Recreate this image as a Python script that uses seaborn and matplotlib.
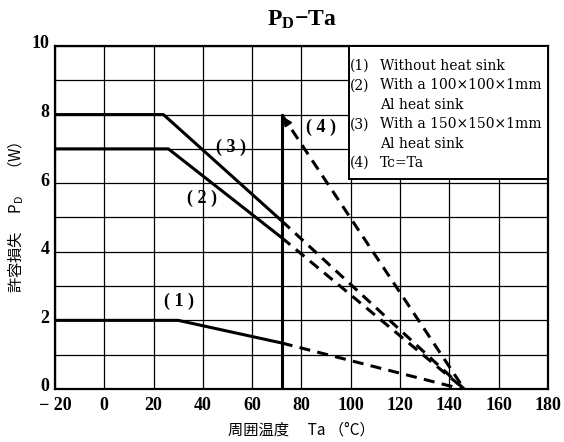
import matplotlib
matplotlib.use("Agg")
import matplotlib.pyplot as plt
import matplotlib.transforms as mtrans
import seaborn as sns
import pandas as pd
from matplotlib.patches import Rectangle

# ---- data ----
c1_solid_x = [-20, 30, 72]
c1_solid_y = [2.0, 2.0, 1.34]
c1_dash_x = [72, 145]
c1_dash_y = [1.34, 0.0]

c2_solid_x = [-20, 26, 72]
c2_solid_y = [7.0, 7.0, 4.41]
c2_dash_x = [72, 146]
c2_dash_y = [4.41, 0.0]

c3_solid_x = [-20, 24, 72]
c3_solid_y = [8.0, 8.0, 4.9]
c3_dash_x = [72, 146]
c3_dash_y = [4.9, 0.0]

c4_solid_x = [72, 72]
c4_solid_y = [0.0, 8.0]
c4_dash_x = [72, 146]
c4_dash_y = [8.0, 0.0]

x_ticks = [-20, 0, 20, 40, 60, 80, 100, 120, 140, 160, 180]
y_ticks = [0, 2, 4, 6, 8, 10]
y_minor = [1, 3, 5, 7, 9]

curve_labels = ["(1)", "(2)", "(3)", "(4)"]
label_x = [30.5, 39.5, 51.5, 88]
label_y = [2.55, 5.55, 7.05, 7.62]

legend_lines = [("(1)", "Without heat sink"),
                ("(2)", "With a 100×100×1mm"),
                ("", "Al heat sink"),
                ("(3)", "With a 150×150×1mm"),
                ("", "Al heat sink"),
                ("(4)", "Tc=Ta")]

sns.set_style("white")
plt.rcParams["font.family"] = ["Liberation Serif", "DejaVu Serif"]
plt.rcParams["text.color"] = "black"
plt.rcParams["axes.labelcolor"] = "black"
plt.rcParams["mathtext.fontset"] = "custom"
plt.rcParams["mathtext.rm"] = "Liberation Serif"
plt.rcParams["mathtext.bf"] = "Liberation Serif:bold"

fig = plt.figure(figsize=(5.64, 4.42), dpi=100)
ax = fig.add_axes([0.0975, 0.12, 0.874, 0.776])

lw = 2.2
solid_sets = [(c1_solid_x, c1_solid_y), (c2_solid_x, c2_solid_y),
              (c3_solid_x, c3_solid_y), (c4_solid_x, c4_solid_y)]
dash_sets = [(c1_dash_x, c1_dash_y), (c2_dash_x, c2_dash_y),
             (c3_dash_x, c3_dash_y), (c4_dash_x, c4_dash_y)]

for xs, ys in solid_sets:
    df = pd.DataFrame({"x": xs, "y": ys})
    sns.lineplot(data=df, x="x", y="y", ax=ax, color="black", lw=lw,
                 sort=False, estimator=None, zorder=3)
for xs, ys in dash_sets:
    df = pd.DataFrame({"x": xs, "y": ys})
    sns.lineplot(data=df, x="x", y="y", ax=ax, color="black", lw=lw,
                 sort=False, estimator=None, zorder=3, dashes=False,
                 linestyle=(0, (3.6, 2.4)))

# arrow head at the top of the (4) dashed line
ax.annotate("", xy=(c4_dash_x[0], c4_dash_y[0]),
            xytext=(c4_dash_x[0] + 3, c4_dash_y[0] - 0.33),
            arrowprops=dict(arrowstyle="-|>", color="black", lw=1.5,
                            mutation_scale=12), zorder=4)

for t, lx, ly in zip(curve_labels, label_x, label_y):
    ax.text(lx, ly, t.replace("(", "( ").replace(")", " )"), ha="center",
            va="center", fontsize=13, fontweight="bold", color="black",
            zorder=5)

ax.set_xlim(-20, 180)
ax.set_ylim(0, 10)
ax.set_xticks(x_ticks)
ax.set_xticklabels([str(v).replace("-", "− ") for v in x_ticks],
                   fontsize=13, fontweight="bold")
ax.set_yticks(y_ticks)
ax.set_yticklabels([str(v) for v in y_ticks], fontsize=13, fontweight="bold")
ax.set_yticks(y_minor, minor=True)
ax.grid(True, which="both", axis="y", color="black", lw=0.9, zorder=1)
ax.grid(True, which="major", axis="x", color="black", lw=0.9, zorder=1)
ax.set_axisbelow(True)
ax.tick_params(axis="both", which="both", length=2, width=1, color="black",
               pad=2, labelcolor="black")
ax.tick_params(axis="x", pad=4)

# shift y tick labels slightly upward, as in the reference
shift = mtrans.ScaledTranslation(0, 4 / 100, fig.dpi_scale_trans)
for lab in ax.get_yticklabels():
    lab.set_transform(lab.get_transform() + shift)

for s in ax.spines.values():
    s.set_visible(True)
    s.set_color("black")
    s.set_linewidth(1.6)

ax.set_xlabel("周囲温度　 Ta （°C）", fontsize=11, color="black",
              family=["Noto Sans CJK JP", "DejaVu Sans"], labelpad=5)
ax.set_ylabel("許容損失　 P$_\\mathregular{D}$ 　（W）", fontsize=11,
              color="black",
              family=["Noto Sans CJK JP", "DejaVu Sans"], labelpad=4)

# legend box
box = Rectangle((99.3, 6.13), 80.7, 3.87, facecolor="white",
                edgecolor="black", lw=1.4, zorder=6)
ax.add_patch(box)
y0 = 9.42
dy = 0.567
for i, (num, txt) in enumerate(legend_lines):
    yy = y0 - i * dy
    if num:
        ax.text(99.5, yy, num, fontsize=10, family="DejaVu Serif",
                color="black", va="center", ha="left", zorder=7)
    ax.text(112.0, yy, txt, fontsize=10, family="DejaVu Serif",
            color="black", va="center", ha="left", zorder=7)

fig.text(0.535, 0.955, r"$\mathbf{P_D}$" + "−" + r"$\mathbf{Ta}$",
         fontsize=17, ha="center", va="center", fontweight="bold",
         color="black")

fig.savefig("out.png", dpi=100)
